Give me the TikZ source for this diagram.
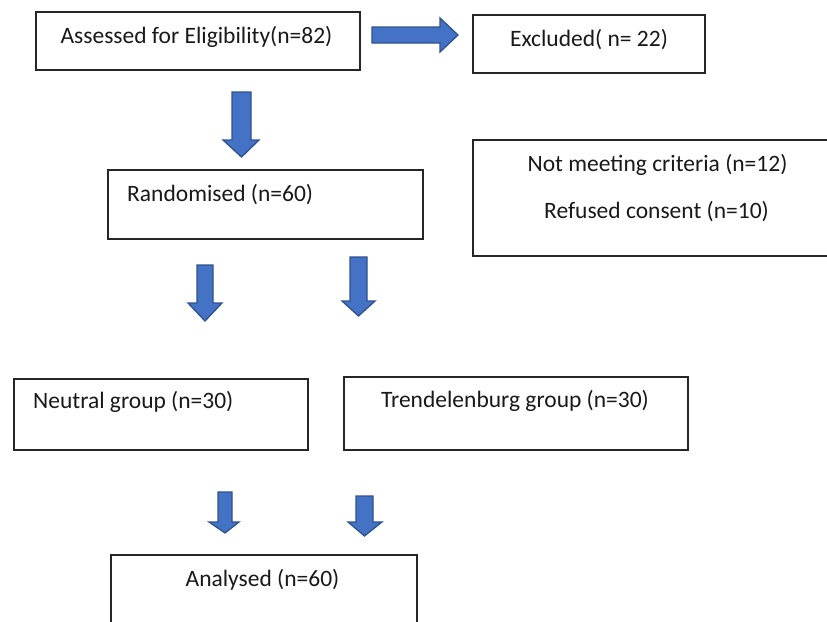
\documentclass[tikz,border=0pt]{standalone}
\usepackage{fontspec}
\setmainfont{Carlito}
\definecolor{arrowfill}{HTML}{4472C4}
\definecolor{arrowline}{HTML}{2F528F}
\definecolor{boxline}{HTML}{262626}
\tikzset{
  box/.style={draw=boxline, line width=1.8pt, fill=white},
  lbl/.style={inner sep=0pt, font=\fontsize{23.5}{26}\selectfont, text=black!90},
  blockarrow/.style={fill=arrowfill, draw=arrowline, line width=1.3pt, line join=miter},
}
% \darrow{shaft left}{shaft right}{head left}{head right}{top}{head start}{tip}
\newcommand{\darrow}[7]{%
  \draw[blockarrow] (#1,#5) -- (#2,#5) -- (#2,#6) -- (#4,#6) -- ({(#1+#2)/2},#7) -- (#3,#6) -- (#1,#6) -- cycle;}
\begin{document}
\begin{tikzpicture}[x=1pt,y=-1pt]
\useasboundingbox (0,0) rectangle (827,621);
\clip (0,0) rectangle (827,621);
% boxes
\node[box, minimum width=324pt, minimum height=58pt, anchor=north west, inner sep=0pt] (assess) at (35,11) {};
\node[lbl] (assesst) at (196.5,37) {Assessed for Eligibility(n=82)};
\node[box, minimum width=232pt, minimum height=58pt, anchor=north west, inner sep=0pt] (excl) at (472,14) {};
\node[lbl] (exclt) at (589,40) {Excluded( n= 22)};
\node[box, minimum width=315pt, minimum height=69pt, anchor=north west, inner sep=0pt] (rand) at (107,169) {};
\node[lbl, anchor=west] (randt) at (127,195) {Randomised (n=60)};
\node[box, minimum width=370pt, minimum height=116pt, anchor=north west, inner sep=0pt] (notmeet) at (472,139) {};
\node[lbl] (nm1) at (657.5,165) {Not meeting criteria (n=12)};
\node[lbl] (nm2) at (656.5,212) {Refused consent (n=10)};
\node[box, minimum width=294pt, minimum height=71pt, anchor=north west, inner sep=0pt] (neutral) at (13,378) {};
\node[lbl, anchor=west] (neutralt) at (33,402) {Neutral group (n=30)};
\node[box, minimum width=344pt, minimum height=73pt, anchor=north west, inner sep=0pt] (trend) at (343,376) {};
\node[lbl] (trendt) at (515,401) {Trendelenburg group (n=30)};
\node[box, minimum width=306pt, minimum height=90pt, anchor=north west, inner sep=0pt] (anal) at (110,554) {};
\node[lbl] (analt) at (262.5,580) {Analysed (n=60)};
% arrows
\draw[blockarrow] (372,27) -- (440,27) -- (440,18) -- (458,35) -- (440,52) -- (440,43) -- (372,43) -- cycle;
\darrow{232}{251}{223}{259}{92}{140}{157}
\darrow{197}{213}{188}{222}{265}{303}{321}
\darrow{350}{367}{342}{375}{257}{301}{316}
\darrow{218}{232}{209}{239}{492}{522}{533}
\darrow{356}{373}{348}{382}{496}{522}{536}
\end{tikzpicture}
\end{document}
